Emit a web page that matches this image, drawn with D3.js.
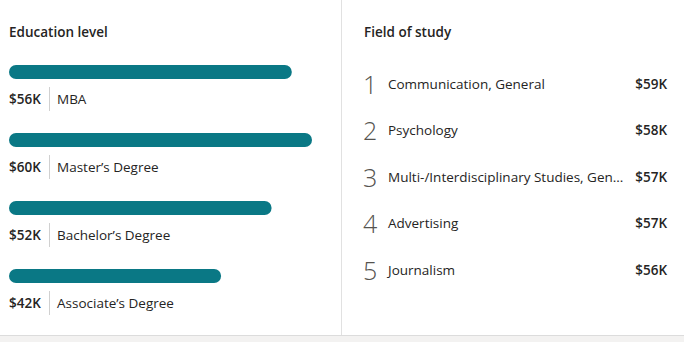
<!DOCTYPE html>
<meta charset="utf-8">
<style>
body { margin: 0; background: #f3f2f1; }
svg { display: block; font-family: "Segoe UI", "Open Sans", sans-serif; }
.title { font-size: 13.5px; font-weight: 600; fill: #252423; }
.lbl { font-size: 13.5px; fill: #252423; }
.val { font-size: 13.5px; font-weight: 600; fill: #252423; }
.rank { font-size: 25px; font-weight: 300; fill: #55534f; }
</style>
<body>
<script src="https://cdn.jsdelivr.net/npm/d3@7"></script>
<script>

// education level
var levels = ["MBA", "Master’s Degree", "Bachelor’s Degree", "Associate’s Degree"];
var levelSalary = [56, 60, 52, 42];

// field of study
var fields = ["Communication, General", "Psychology", "Multi-/Interdisciplinary Studies, General", "Advertising", "Journalism"];
var fieldSalary = [59, 58, 57, 57, 56];

var W = 684, H = 342;

var svg = d3.select("body").append("svg")
    .attr("width", W)
    .attr("height", H);

// white card
svg.append("rect").attr("x", 0).attr("y", 0).attr("width", W).attr("height", 335).attr("fill", "#fff");
svg.append("line").attr("x1", 0).attr("x2", W).attr("y1", 335.5).attr("y2", 335.5).attr("stroke", "#dcdcdc");
svg.append("line").attr("x1", 341.5).attr("x2", 341.5).attr("y1", 0).attr("y2", 335).attr("stroke", "#e1e1e1");

var fmt = function(v) { return "$" + v + "K"; };

// ---- left: education level
var left = svg.append("g");
left.append("text").attr("class", "title").attr("x", 9).attr("y", 37).text("Education level");

var x = d3.scaleLinear().domain([0, 60]).range([0, 303]);
var y = d3.scaleBand().domain(levels).range([38, 310]);

var rows = left.selectAll(".row").data(levels).enter().append("g")
    .attr("class", "row")
    .attr("transform", function(d) { return "translate(9," + y(d) + ")"; });

rows.append("rect")
    .attr("y", 27)
    .attr("height", 14)
    .attr("rx", 7)
    .attr("width", function(d, i) { return x(levelSalary[i]); })
    .attr("fill", "#0a7885");

rows.append("text").attr("class", "val")
    .attr("y", 66)
    .text(function(d, i) { return fmt(levelSalary[i]); });

rows.append("line")
    .attr("x1", 40.5).attr("x2", 40.5).attr("y1", 49).attr("y2", 73)
    .attr("stroke", "#d0d0d0");

rows.append("text").attr("class", "lbl")
    .attr("x", 48).attr("y", 66)
    .text(function(d) { return d; });

// ---- right: field of study
var right = svg.append("g");
right.append("text").attr("class", "title").attr("x", 364).attr("y", 37).text("Field of study");

var fy = d3.scaleBand().domain(d3.range(fields.length)).range([61, 293]);

var frows = right.selectAll(".frow").data(fields).enter().append("g")
    .attr("class", "frow")
    .attr("transform", function(d, i) { return "translate(0," + fy(i) + ")"; });

frows.append("text").attr("class", "rank")
    .attr("x", 363).attr("y", 33)
    .text(function(d, i) { return i + 1; });

frows.append("text").attr("class", "lbl")
    .attr("x", 388).attr("y", 28)
    .text(function(d) { return d; })
    .each(function() {
      var t = d3.select(this), s = t.text();
      if (this.getComputedTextLength() <= 238) return;
      while (s.length && this.getComputedTextLength() > 238) {
        s = s.slice(0, -1);
        t.text(s + "...");
      }
    });

frows.append("text").attr("class", "val")
    .attr("x", 667).attr("y", 28)
    .attr("text-anchor", "end")
    .text(function(d, i) { return fmt(fieldSalary[i]); });

</script>
</body>
